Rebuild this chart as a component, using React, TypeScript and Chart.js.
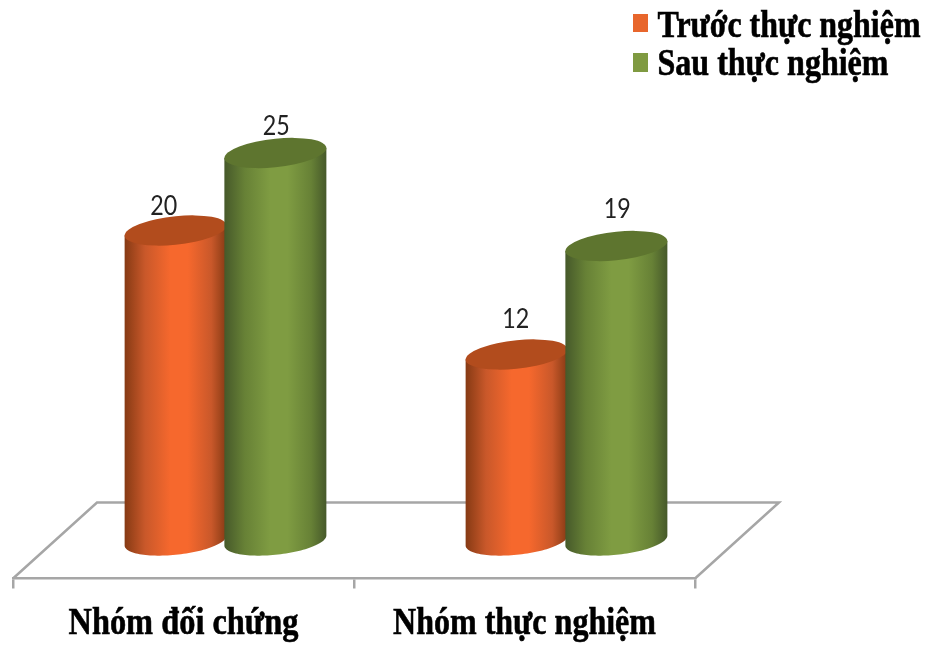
import React, { useEffect, useRef } from "react";
import { Chart, registerables } from "chart.js";

Chart.register(...registerables);

const groups = ["Nhóm đối chứng", "Nhóm thực nghiệm"];
const seriesNames = ["Trước thực nghiệm", "Sau thực nghiệm"];
const before = [20, 12];
const after = [25, 19];

const palette = [
  { swatch: "#e8662c", edge: "#863a14", mid: "#c9582a", bright: "#f6682d", top: "#b24c1d" },
  { swatch: "#7f9a41", edge: "#46592a", mid: "#678136", bright: "#7f9c42", top: "#5e752f" },
];

// Hand placement of the value captions, per series and category.
const captionShift = [
  [{ x: -12, y: 0 }, { x: -1, y: -11 }],
  [{ x: 1, y: -2.5 }, { x: 1, y: -12.5 }],
];

const SERIF = '"Liberation Serif", serif';
const DEPTH_X = 42; // half the sideways run of the floor
const DEPTH_Y = 38; // half the rise of the floor

// Draws an upright cylinder with a tilted cap between two y positions.
function cylinder(ctx: CanvasRenderingContext2D, cx: number, topY: number, baseY: number, colors: (typeof palette)[number]) {
  const rx = 51;
  const ry = 14.3;
  const tilt = 5;
  const left = cx - rx;
  const right = cx + rx;

  const body = ctx.createLinearGradient(left, 0, right, 0);
  body.addColorStop(0, colors.edge);
  body.addColorStop(0.2, colors.mid);
  body.addColorStop(0.45, colors.bright);
  body.addColorStop(0.62, colors.bright);
  body.addColorStop(0.85, colors.mid);
  body.addColorStop(1, colors.edge);

  ctx.save();
  ctx.fillStyle = body;
  ctx.beginPath();
  ctx.moveTo(left, topY + tilt);
  ctx.lineTo(left, baseY + tilt);
  for (let t = 0; t <= 60; t++) {
    const a = Math.PI - (t / 60) * Math.PI;
    const c = Math.cos(a);
    ctx.lineTo(cx + rx * c, baseY - tilt * c + ry * Math.sin(a));
  }
  ctx.lineTo(right, topY - tilt);
  ctx.closePath();
  ctx.fill();
  ctx.restore();

  ctx.save();
  ctx.transform(1, -tilt / rx, 0, 1, cx, topY);
  ctx.fillStyle = colors.top;
  ctx.beginPath();
  ctx.ellipse(0, 0, rx, ry, 0, 0, Math.PI * 2);
  ctx.fill();
  ctx.restore();
}

// Bold text with a hairline outline, so the squeezed letters keep their weight.
function heavyText(ctx: CanvasRenderingContext2D, text: string, x: number, y: number, maxWidth: number) {
  ctx.lineWidth = 0.6;
  ctx.strokeStyle = "#000000";
  ctx.fillText(text, x, y, maxWidth);
  ctx.strokeText(text, x, y, maxWidth);
}

const cylinderPlugin = {
  id: "cylinders",
  beforeDatasetsDraw(chart: any) {
    const { ctx, scales } = chart;
    const x = scales.x;
    const floorBase = scales.y.getPixelForValue(0);

    // Back and side edges of the floor; the front edge is the x axis.
    ctx.save();
    ctx.strokeStyle = "#a6a6a6";
    ctx.lineWidth = 2.5;
    ctx.beginPath();
    ctx.moveTo(x.left, floorBase);
    ctx.lineTo(x.left + DEPTH_X * 2, floorBase - DEPTH_Y * 2);
    ctx.lineTo(x.right + DEPTH_X * 2, floorBase - DEPTH_Y * 2);
    ctx.lineTo(x.right, floorBase);
    ctx.stroke();
    ctx.restore();

    chart.data.datasets.forEach((ds: any, i: number) => {
      chart.getDatasetMeta(i).data.forEach((bar: any) => {
        cylinder(ctx, bar.x + DEPTH_X, bar.y - DEPTH_Y, bar.base - DEPTH_Y, palette[i]);
      });
    });

    chart.data.datasets.forEach((ds: any, i: number) => {
      chart.getDatasetMeta(i).data.forEach((bar: any, j: number) => {
        const shift = captionShift[i][j];
        ctx.save();
        ctx.fillStyle = "#222222";
        ctx.font = "27px Lato, sans-serif";
        ctx.textAlign = "center";
        ctx.textBaseline = "alphabetic";
        ctx.fillText(String(ds.data[j]), bar.x + DEPTH_X + shift.x, bar.y - DEPTH_Y - 15.5 + shift.y, 27);
        ctx.restore();
      });
    });
    return false;
  },
  afterDraw(chart: any) {
    const { ctx, scales } = chart;
    // Category names, squeezed to the narrow type of the axis captions.
    ctx.save();
    ctx.fillStyle = "#000000";
    ctx.font = `bold 38px ${SERIF}`;
    ctx.textAlign = "center";
    ctx.textBaseline = "alphabetic";
    const widths = [230, 263];
    groups.forEach((name, i) => {
      heavyText(ctx, name, scales.x.getPixelForValue(i), 634, widths[i]);
    });

    // Legend in the top right corner.
    const rows = [
      { box: 14, h: 18, base: 37, w: 263 },
      { box: 53, h: 19, base: 75, w: 231 },
    ];
    ctx.textAlign = "left";
    chart.data.datasets.forEach((ds: any, i: number) => {
      const r = rows[i];
      ctx.fillStyle = palette[i].swatch;
      ctx.fillRect(633, r.box, 15, r.h);
      ctx.fillStyle = "#000000";
      heavyText(ctx, ds.label, 657.5, r.base, r.w);
    });
    ctx.restore();
  },
};

export default function App() {
  const ref = useRef<HTMLCanvasElement>(null);

  useEffect(() => {
    const chart = new Chart(ref.current as HTMLCanvasElement, {
      type: "bar",
      data: {
        labels: groups,
        datasets: [
          { label: seriesNames[0], data: before, backgroundColor: palette[0].swatch },
          { label: seriesNames[1], data: after, backgroundColor: palette[1].swatch },
        ],
      },
      options: {
        responsive: false,
        animation: false,
        layout: { padding: { left: 13, right: 234, top: 36, bottom: 57.5 } },
        datasets: { bar: { categoryPercentage: 0.585, barPercentage: 1 } },
        plugins: { legend: { display: false }, tooltip: { enabled: false } },
        scales: {
          x: {
            ticks: { display: false },
            border: { display: true, color: "#a6a6a6", width: 2.5 },
            grid: { drawOnChartArea: false, drawTicks: true, tickLength: 10, color: "#a6a6a6", lineWidth: 2.5 },
          },
          y: { display: false, min: 0, max: 35 },
        },
      },
      plugins: [cylinderPlugin],
    } as any);
    return () => chart.destroy();
  }, []);

  return (
    <div style={{ position: "absolute", left: 0, top: 0, width: 929, height: 646, background: "#ffffff" }}>
      <canvas ref={ref} width={929} height={646} style={{ display: "block" }} />
    </div>
  );
}
